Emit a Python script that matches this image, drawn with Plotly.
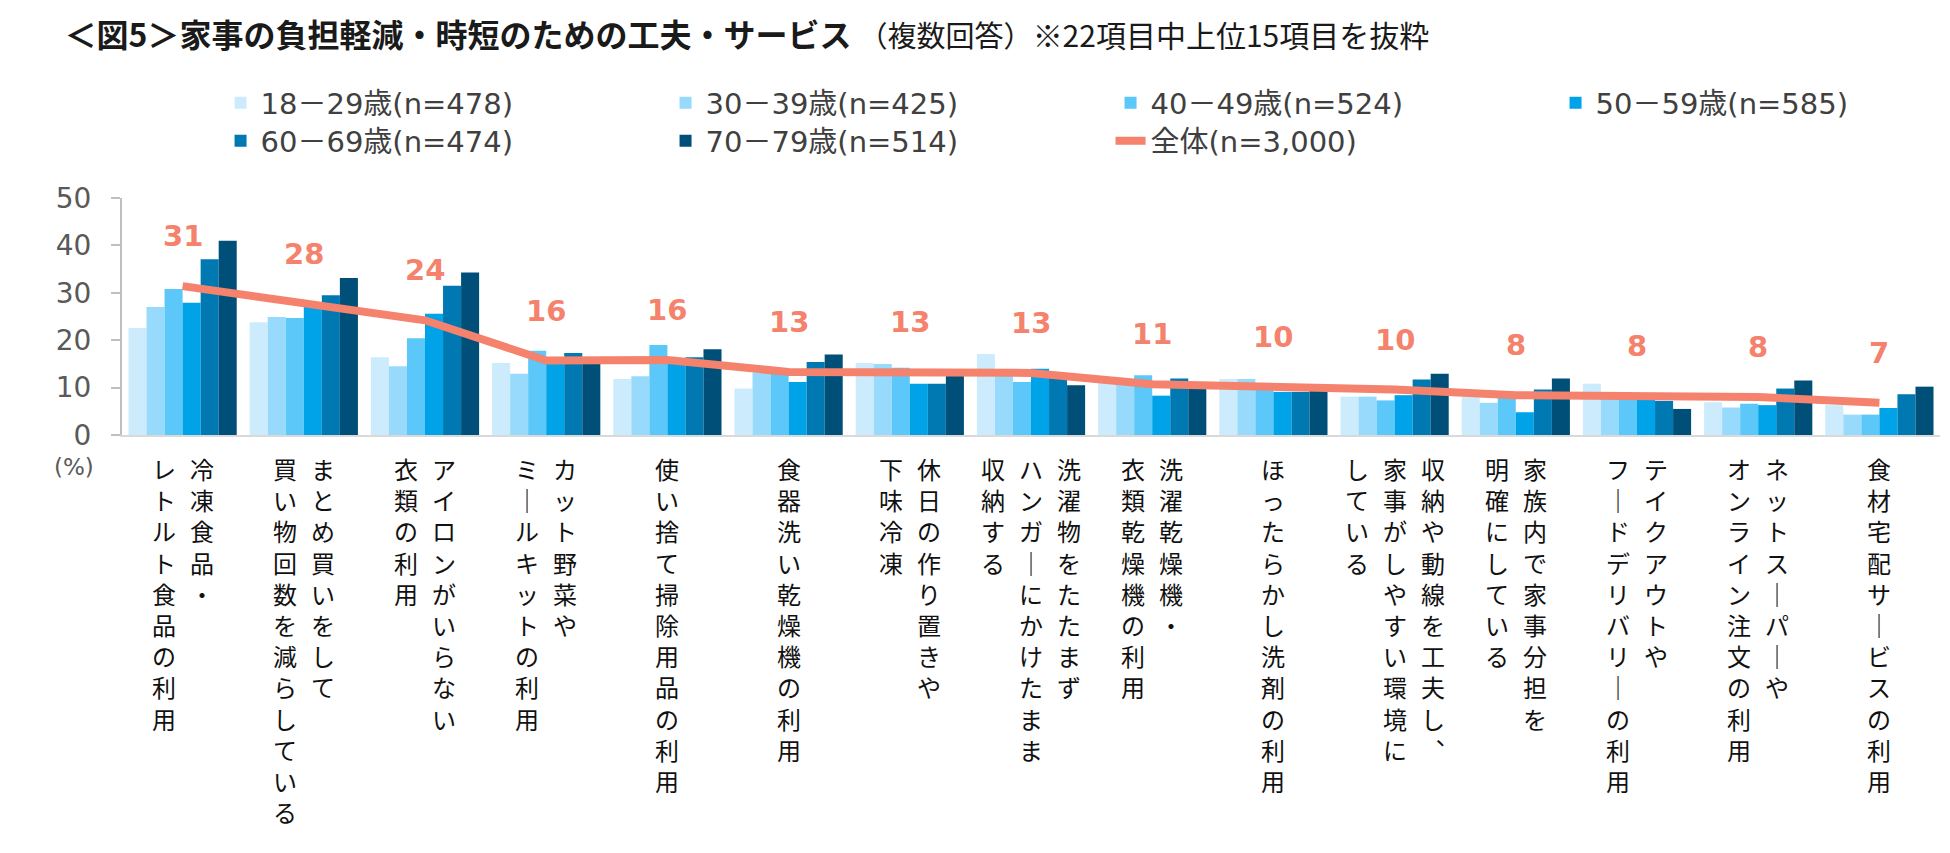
import plotly.graph_objects as go

# ==== DATA ==== #
# category labels: "\n" separates the vertical columns (read right to left)
categories = [
    "冷凍食品・\nレトルト食品の利用",
    "まとめ買いをして\n買い物回数を減らしている",
    "アイロンがいらない\n衣類の利用",
    "カット野菜や\nミールキットの利用",
    "使い捨て掃除用品の利用",
    "食器洗い乾燥機の利用",
    "休日の作り置きや\n下味冷凍",
    "洗濯物をたたまず\nハンガーにかけたまま\n収納する",
    "洗濯乾燥機・\n衣類乾燥機の利用",
    "ほったらかし洗剤の利用",
    "収納や動線を工夫し、\n家事がしやすい環境に\nしている",
    "家族内で家事分担を\n明確にしている",
    "テイクアウトや\nフードデリバリーの利用",
    "ネットスーパーや\nオンライン注文の利用",
    "食材宅配サービスの利用",
]

age_groups = ["18－29歳(n=478)", "30－39歳(n=425)", "40－49歳(n=524)",
              "50－59歳(n=585)", "60－69歳(n=474)", "70－79歳(n=514)"]

age_18_29 = [22.6, 23.8, 16.4, 15.2, 11.8, 9.8, 15.2, 17.1, 11.0, 11.8, 8.1, 8.0, 10.8, 6.9, 6.3]
age_30_39 = [27.0, 24.9, 14.5, 12.9, 12.4, 13.2, 15.0, 13.0, 11.2, 11.8, 8.1, 6.8, 7.6, 5.8, 4.3]
age_40_49 = [30.8, 24.7, 20.4, 17.8, 19.0, 13.0, 14.2, 11.2, 12.6, 10.4, 7.3, 8.0, 7.6, 6.6, 4.3]
age_50_59 = [27.9, 27.2, 25.6, 15.8, 15.6, 11.2, 10.8, 14.0, 8.3, 9.1, 8.4, 4.8, 7.6, 6.3, 5.7]
age_60_69 = [37.1, 29.5, 31.5, 17.3, 16.4, 15.4, 10.8, 12.4, 11.9, 9.1, 11.7, 9.6, 7.2, 9.8, 8.6]
age_70_79 = [41.0, 33.1, 34.3, 15.5, 18.1, 17.0, 12.6, 10.5, 10.3, 9.3, 12.9, 11.9, 5.5, 11.5, 10.2]

total_name = "全体(n=3,000)"
total = [31.4, 27.6, 24.2, 15.7, 15.8, 13.3, 13.3, 13.1, 10.7, 10.2, 9.6, 8.4, 8.2, 8.0, 6.8]

# ==== STYLE ==== #
bar_colors = ["#CCECFE", "#97DAFB", "#5CC8FA", "#00A2E8", "#0078B2", "#004F78"]
line_color = "#F5826C"
jp_font = "Noto Sans CJK JP"
num_font = "DejaVu Sans, Noto Sans CJK JP"

W, H = 1950, 853
margin = dict(l=114, r=18, t=190, b=426)

# vertical writing: a few glyphs change shape when set top to bottom
vertical_map = {"ー": "｜", "、": "︑"}
column_gap = 38


def vertical_label_annotations(cat):
    # one annotation per column, one character per line
    annots = []
    columns = cat.split("\n")
    n = len(columns)
    for j, col in enumerate(columns):
        annots.append(dict(
            x=cat, xref="x", y=0, yref="paper",
            text="<br>".join(vertical_map.get(ch, ch) for ch in col),
            showarrow=False, align="center",
            xanchor="center", yanchor="top",
            xshift=((n - 1) / 2 - j) * column_gap,
            yshift=-14,
            font=dict(family=jp_font, size=24, color="#111111"),
        ))
    return annots


fig = go.Figure()

series = [age_18_29, age_30_39, age_40_49, age_50_59, age_60_69, age_70_79]
for i, (name, vals) in enumerate(zip(age_groups, series)):
    fig.add_trace(go.Bar(
        x=categories, y=vals, name=name,
        marker=dict(color=bar_colors[i], line=dict(width=0)),
        legend="legend" if i < 4 else "legend2",
    ))

fig.add_trace(go.Scatter(
    x=categories, y=total, name=total_name, mode="lines",
    line=dict(color=line_color, width=8),
    legend="legend2",
))

annotations = []
for cat, v in zip(categories, total):
    annotations.append(dict(
        x=cat, y=v, xref="x", yref="y", text=f"{v:.0f}", showarrow=False,
        xanchor="center", yanchor="middle", yshift=50,
        font=dict(family="DejaVu Sans", size=29, color=line_color, weight="bold"),
    ))
for cat in categories:
    annotations += vertical_label_annotations(cat)

annotations.append(dict(
    x=0, y=0, xref="paper", yref="paper", text="(%)", showarrow=False,
    xanchor="center", yanchor="middle",
    xshift=-48, yshift=-32, font=dict(family=num_font, size=23, color="#595959"),
))

legend_common = dict(
    orientation="h", xref="container", yref="container",
    xanchor="left", yanchor="middle", x=0.109,
    entrywidth=400, itemwidth=30, traceorder="normal",
    bgcolor="rgba(0,0,0,0)",
    font=dict(family=num_font, size=29, color="#404040"),
)

fig.update_layout(
    autosize=False, width=W, height=H, margin=margin,
    plot_bgcolor="white", paper_bgcolor="white",
    barmode="group", bargap=0.107, bargroupgap=0,
    title=dict(
        text="<b>＜図5＞家事の負担軽減・時短のための工夫・サービス</b> "
             "<span style='font-size:29px'>（複数回答）</span>"
             "<span style='font-size:30px'>※22項目中上位15項目を抜粋</span>",
        xref="container", yref="container", x=0.029, y=1 - 28 / H,
        xanchor="left", yanchor="middle",
        font=dict(family=jp_font, size=32, color="#1A1A1A"),
    ),
    legend=dict(**legend_common, y=1 - 95 / H),
    legend2=dict(**legend_common, y=1 - 133 / H),
    xaxis=dict(
        type="category", showticklabels=False, ticks="",
        showline=True, linecolor="#D9D9D9", linewidth=2, showgrid=False,
    ),
    yaxis=dict(
        range=[0, 50], dtick=10, showgrid=False, zeroline=False,
        showline=True, linecolor="#BFBFBF", linewidth=2,
        ticks="outside", ticklen=9, tickcolor="#BFBFBF", tickwidth=2,
        ticklabelstandoff=14,
        tickfont=dict(family=num_font, size=28, color="#595959"),
    ),
    annotations=annotations,
)

fig.write_html("out.html")
